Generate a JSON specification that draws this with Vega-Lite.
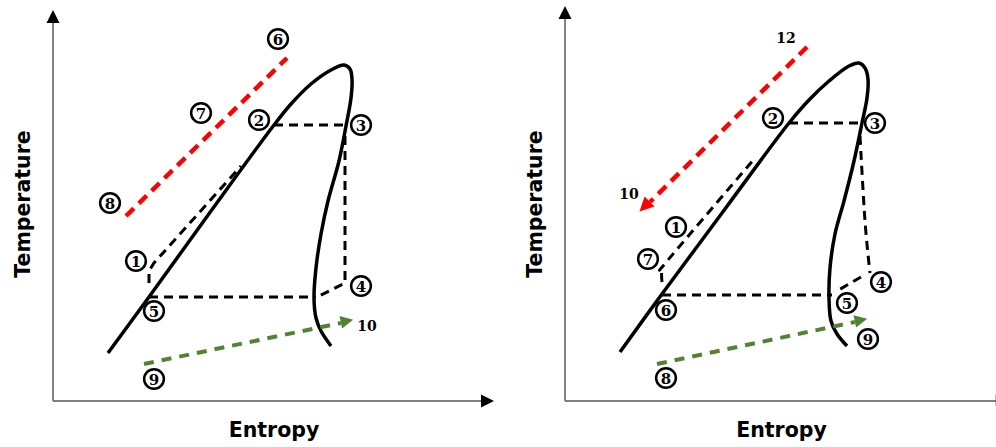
{
  "$schema": "https://vega.github.io/schema/vega-lite/v6.json",
  "padding": {"left": 13, "top": 5, "right": 0, "bottom": 0},
  "spacing": 31,
  "config": {"view": {"stroke": null}},
  "datasets": {
    "axA": [{"x": 0, "y": 0, "x2": 0, "y2": 380}, {"x": 0, "y": 0, "x2": 431, "y2": 0}],
    "axB": [{"x": 0, "y": 0, "x2": 0, "y2": 385}, {"x": 0, "y": 0, "x2": 432, "y2": 0}],
    "tickB": [{"x": 432, "y": -5, "y2": 7}],
    "satA": [
      {"o": 1, "x": 55, "y": 48}, {"o": 2, "x": 96, "y": 104}, {"o": 3, "x": 158, "y": 190}, {"o": 4, "x": 221, "y": 276},
      {"o": 5, "x": 238, "y": 297}, {"o": 6, "x": 258, "y": 317}, {"o": 7, "x": 278, "y": 331},
      {"o": 8, "x": 291, "y": 336}, {"o": 9, "x": 297, "y": 332}, {"o": 10, "x": 299, "y": 322},
      {"o": 11, "x": 298, "y": 303}, {"o": 12, "x": 293, "y": 275}, {"o": 13, "x": 286, "y": 240},
      {"o": 14, "x": 275, "y": 200}, {"o": 15, "x": 268, "y": 167}, {"o": 16, "x": 263, "y": 133},
      {"o": 17, "x": 261, "y": 103}, {"o": 18, "x": 263, "y": 83}, {"o": 19, "x": 268, "y": 70},
      {"o": 20, "x": 278, "y": 55}
    ],
    "satB": [
      {"o": 1, "x": 55, "y": 49}, {"o": 2, "x": 97, "y": 107}, {"o": 3, "x": 160, "y": 192}, {"o": 4, "x": 224, "y": 278},
      {"o": 5, "x": 244, "y": 301}, {"o": 6, "x": 264, "y": 320}, {"o": 7, "x": 284, "y": 335},
      {"o": 8, "x": 294, "y": 338}, {"o": 9, "x": 300, "y": 333}, {"o": 10, "x": 303, "y": 322},
      {"o": 11, "x": 302, "y": 303}, {"o": 12, "x": 297, "y": 278}, {"o": 13, "x": 289, "y": 240},
      {"o": 14, "x": 279, "y": 200}, {"o": 15, "x": 270, "y": 167}, {"o": 16, "x": 265, "y": 133},
      {"o": 17, "x": 264, "y": 103}, {"o": 18, "x": 266, "y": 80}, {"o": 19, "x": 272, "y": 67},
      {"o": 20, "x": 282, "y": 55}
    ],
    "cycA": [
      {"seg": "a", "o": 1, "x": 221, "y": 276}, {"seg": "a", "o": 2, "x": 292, "y": 276},
      {"seg": "b", "o": 1, "x": 292, "y": 265}, {"seg": "b", "o": 2, "x": 292, "y": 118}, {"seg": "b", "o": 3, "x": 264, "y": 104},
      {"seg": "c", "o": 1, "x": 96, "y": 104}, {"seg": "c", "o": 2, "x": 263, "y": 104},
      {"seg": "d", "o": 1, "x": 96, "y": 118}, {"seg": "d", "o": 2, "x": 96, "y": 130}, {"seg": "d", "o": 3, "x": 101, "y": 138}, {"seg": "d", "o": 4, "x": 188, "y": 235}
    ],
    "cycB": [
      {"seg": "a", "o": 1, "x": 224, "y": 278}, {"seg": "a", "o": 2, "x": 295, "y": 278},
      {"seg": "b", "o": 1, "x": 295, "y": 265}, {"seg": "b", "o": 2, "x": 300, "y": 180}, {"seg": "b", "o": 3, "x": 305, "y": 128},
      {"seg": "c", "o": 1, "x": 296, "y": 124}, {"seg": "c", "o": 2, "x": 272, "y": 110},
      {"seg": "d", "o": 1, "x": 97, "y": 106}, {"seg": "d", "o": 2, "x": 267, "y": 106},
      {"seg": "e", "o": 1, "x": 97, "y": 119}, {"seg": "e", "o": 2, "x": 97, "y": 132}, {"seg": "e", "o": 3, "x": 103, "y": 141}, {"seg": "e", "o": 4, "x": 190, "y": 243}
    ],
    "redA": [{"o": 1, "x": 73, "y": 185}, {"o": 2, "x": 234, "y": 343}],
    "redB": [{"o": 1, "x": 242, "y": 354}, {"o": 2, "x": 85, "y": 199}],
    "greenA": [{"o": 1, "x": 91, "y": 37}, {"o": 2, "x": 288, "y": 78}],
    "greenB": [{"o": 1, "x": 92, "y": 37}, {"o": 2, "x": 290, "y": 79}],
    "headsA": [
      {"kind": "up", "x": 0, "y": 384.5},
      {"kind": "right", "x": 434.5, "y": 0},
      {"kind": "green", "x": 294, "y": 80}
    ],
    "headsB": [
      {"kind": "up", "x": 0, "y": 388.5},
      {"kind": "green", "x": 296, "y": 81},
      {"kind": "red", "x": 79.5, "y": 194.5}
    ],
    "circA": [
      {"d": "6", "x": 225, "y": 362}, {"d": "7", "x": 148, "y": 288}, {"d": "8", "x": 57, "y": 198},
      {"d": "2", "x": 206, "y": 281}, {"d": "3", "x": 308, "y": 276}, {"d": "1", "x": 83, "y": 140},
      {"d": "4", "x": 308, "y": 115}, {"d": "5", "x": 101, "y": 90}, {"d": "9", "x": 101, "y": 22}
    ],
    "circB": [
      {"d": "2", "x": 208, "y": 283}, {"d": "3", "x": 310, "y": 278}, {"d": "1", "x": 111, "y": 174},
      {"d": "7", "x": 83, "y": 142}, {"d": "4", "x": 316, "y": 119}, {"d": "5", "x": 282, "y": 98},
      {"d": "6", "x": 101, "y": 91}, {"d": "9", "x": 303, "y": 62}, {"d": "8", "x": 101, "y": 23}
    ],
    "numA": [{"t": "10", "x": 314, "y": 74}],
    "numB": [{"t": "12", "x": 221, "y": 362}, {"t": "10", "x": 64, "y": 206}]
  },
  "hconcat": [
    {
      "width": 441,
      "height": 395,
      "encoding": {
        "x": {"field": "x", "type": "quantitative", "scale": {"domain": [0, 441], "nice": false, "zero": false},
          "axis": {"title": "Entropy", "domain": false, "ticks": false, "labels": false, "grid": false,
            "titleFont": "DejaVu Sans", "titleFontSize": 20.5, "titleFontWeight": "bold", "titleColor": "#000000", "titlePadding": 19}},
        "y": {"field": "y", "type": "quantitative", "scale": {"domain": [0, 395], "nice": false, "zero": false},
          "axis": {"title": "Temperature", "domain": false, "ticks": false, "labels": false, "grid": false,
            "titleFont": "DejaVu Sans", "titleFontSize": 20.5, "titleFontWeight": "bold", "titleColor": "#000000", "titlePadding": 20}}
      },
      "layer": [
        {"data": {"name": "axA"}, "mark": {"type": "rule", "color": "#808080", "strokeWidth": 2},
          "encoding": {"x2": {"field": "x2"}, "y2": {"field": "y2"}}},
        {"data": {"name": "satA"}, "mark": {"type": "line", "color": "#000000", "strokeWidth": 3.5, "interpolate": "catmull-rom"},
          "encoding": {"order": {"field": "o", "type": "quantitative"}}},
        {"data": {"name": "cycA"}, "mark": {"type": "line", "color": "#000000", "strokeWidth": 3, "strokeDash": [9, 6]},
          "encoding": {"detail": {"field": "seg"}, "order": {"field": "o", "type": "quantitative"}}},
        {"data": {"name": "redA"}, "mark": {"type": "line", "color": "#ff0000", "strokeWidth": 4.5, "strokeDash": [11, 7]},
          "encoding": {"order": {"field": "o", "type": "quantitative"}}},
        {"data": {"name": "greenA"}, "mark": {"type": "line", "color": "#548235", "strokeWidth": 4, "strokeDash": [10, 8]},
          "encoding": {"order": {"field": "o", "type": "quantitative"}}},
        {"data": {"name": "headsA"}, "transform": [{"filter": "datum.kind === 'up'"}],
          "mark": {"type": "point", "shape": "M-1,1L0,-1L1,1Z", "filled": true, "color": "#000000", "opacity": 1, "size": 169}},
        {"data": {"name": "headsA"}, "transform": [{"filter": "datum.kind === 'right'"}],
          "mark": {"type": "point", "shape": "M-1,1L0,-1L1,1Z", "filled": true, "color": "#000000", "opacity": 1, "size": 169, "angle": 90}},
        {"data": {"name": "headsA"}, "transform": [{"filter": "datum.kind === 'green'"}],
          "mark": {"type": "point", "shape": "M-1,1L0,-1L1,1Z", "filled": true, "color": "#548235", "opacity": 1, "size": 160, "angle": 78.3}},
        {"data": {"name": "circA"}, "mark": {"type": "point", "shape": "circle", "filled": false, "color": "#000000", "strokeWidth": 2.5, "opacity": 1, "size": 390}},
        {"data": {"name": "circA"}, "mark": {"type": "text", "font": "DejaVu Serif", "fontWeight": "bold", "fontSize": 15, "baseline": "middle", "align": "center", "color": "#000000", "dy": 1},
          "encoding": {"text": {"field": "d"}}},
        {"data": {"name": "numA"}, "mark": {"type": "text", "font": "DejaVu Serif", "fontWeight": "bold", "fontSize": 14, "baseline": "middle", "align": "center", "color": "#000000"},
          "encoding": {"text": {"field": "t"}}}
      ]
    },
    {
      "width": 432,
      "height": 395,
      "encoding": {
        "x": {"field": "x", "type": "quantitative", "scale": {"domain": [0, 432], "nice": false, "zero": false},
          "axis": {"title": "Entropy", "domain": false, "ticks": false, "labels": false, "grid": false,
            "titleFont": "DejaVu Sans", "titleFontSize": 20.5, "titleFontWeight": "bold", "titleColor": "#000000", "titlePadding": 19}},
        "y": {"field": "y", "type": "quantitative", "scale": {"domain": [0, 395], "nice": false, "zero": false},
          "axis": {"title": "Temperature", "domain": false, "ticks": false, "labels": false, "grid": false,
            "titleFont": "DejaVu Sans", "titleFontSize": 20.5, "titleFontWeight": "bold", "titleColor": "#000000", "titlePadding": 20}}
      },
      "layer": [
        {"data": {"name": "axB"}, "mark": {"type": "rule", "color": "#808080", "strokeWidth": 2},
          "encoding": {"x2": {"field": "x2"}, "y2": {"field": "y2"}}},
        {"data": {"name": "tickB"}, "mark": {"type": "rule", "color": "#000000", "strokeWidth": 2.5},
          "encoding": {"y2": {"field": "y2"}}},
        {"data": {"name": "satB"}, "mark": {"type": "line", "color": "#000000", "strokeWidth": 3.5, "interpolate": "catmull-rom"},
          "encoding": {"order": {"field": "o", "type": "quantitative"}}},
        {"data": {"name": "cycB"}, "mark": {"type": "line", "color": "#000000", "strokeWidth": 3, "strokeDash": [9, 6], "interpolate": "cardinal"},
          "encoding": {"detail": {"field": "seg"}, "order": {"field": "o", "type": "quantitative"}}},
        {"data": {"name": "redB"}, "mark": {"type": "line", "color": "#ff0000", "strokeWidth": 4.5, "strokeDash": [11, 7]},
          "encoding": {"order": {"field": "o", "type": "quantitative"}}},
        {"data": {"name": "greenB"}, "mark": {"type": "line", "color": "#548235", "strokeWidth": 4, "strokeDash": [10, 8]},
          "encoding": {"order": {"field": "o", "type": "quantitative"}}},
        {"data": {"name": "headsB"}, "transform": [{"filter": "datum.kind === 'up'"}],
          "mark": {"type": "point", "shape": "M-1,1L0,-1L1,1Z", "filled": true, "color": "#000000", "opacity": 1, "size": 169}},
        {"data": {"name": "headsB"}, "transform": [{"filter": "datum.kind === 'green'"}],
          "mark": {"type": "point", "shape": "M-1,1L0,-1L1,1Z", "filled": true, "color": "#548235", "opacity": 1, "size": 160, "angle": 77.9}},
        {"data": {"name": "headsB"}, "transform": [{"filter": "datum.kind === 'red'"}],
          "mark": {"type": "point", "shape": "M-1,1L0,-1L1,1Z", "filled": true, "color": "#ff0000", "opacity": 1, "size": 200, "angle": 225.5}},
        {"data": {"name": "circB"}, "mark": {"type": "point", "shape": "circle", "filled": false, "color": "#000000", "strokeWidth": 2.5, "opacity": 1, "size": 390}},
        {"data": {"name": "circB"}, "mark": {"type": "text", "font": "DejaVu Serif", "fontWeight": "bold", "fontSize": 15, "baseline": "middle", "align": "center", "color": "#000000", "dy": 1},
          "encoding": {"text": {"field": "d"}}},
        {"data": {"name": "numB"}, "mark": {"type": "text", "font": "DejaVu Serif", "fontWeight": "bold", "fontSize": 14, "baseline": "middle", "align": "center", "color": "#000000"},
          "encoding": {"text": {"field": "t"}}}
      ]
    }
  ]
}
